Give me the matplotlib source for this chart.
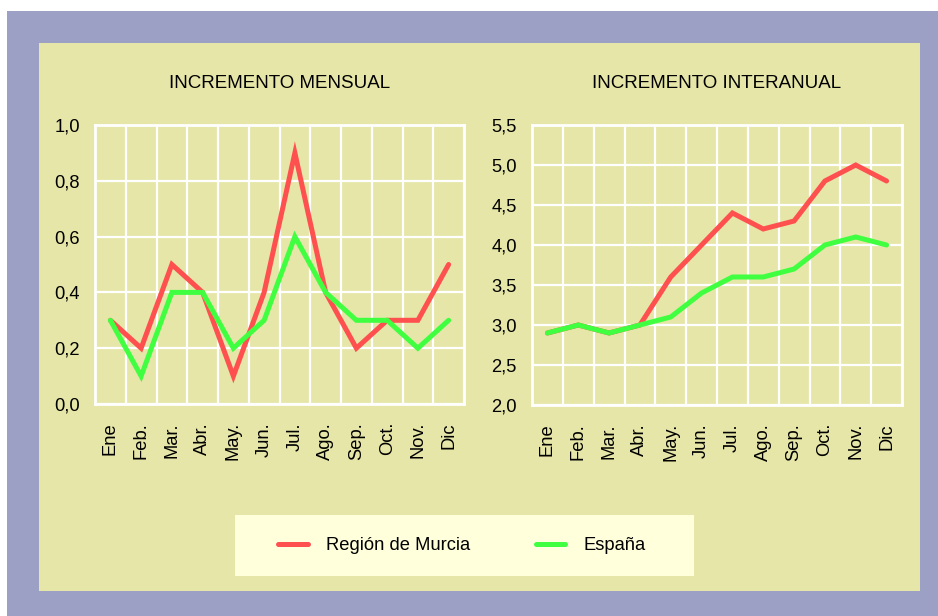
import numpy as np
import matplotlib
matplotlib.use("Agg")
import matplotlib.pyplot as plt
from matplotlib.patches import Rectangle
from matplotlib.ticker import FuncFormatter

plt.rcParams['font.family'] = ['Liberation Sans', 'DejaVu Sans']

# Data
meses = ["Ene", "Feb.", "Mar.", "Abr.", "May.", "Jun.", "Jul.", "Ago.", "Sep.", "Oct.", "Nov.", "Dic"]
murcia_mensual = [0.3, 0.2, 0.5, 0.4, 0.1, 0.4, 0.9, 0.4, 0.2, 0.3, 0.3, 0.5]
espana_mensual = [0.3, 0.1, 0.4, 0.4, 0.2, 0.3, 0.6, 0.4, 0.3, 0.3, 0.2, 0.3]
murcia_interanual = [2.9, 3.0, 2.9, 3.0, 3.6, 4.0, 4.4, 4.2, 4.3, 4.8, 5.0, 4.8]
espana_interanual = [2.9, 3.0, 2.9, 3.0, 3.1, 3.4, 3.6, 3.6, 3.7, 4.0, 4.1, 4.0]

ROJO = "#FF5050"
VERDE = "#40FF40"
KHAKI = "#E6E6A8"
MORADO = "#9CA0C4"

W, H = 938, 616
fig = plt.figure(figsize=(W / 100, H / 100), dpi=100)
fig.patch.set_facecolor("white")

def px(x0, y0, x1, y1):
    # pixel box (top-left origin) -> figure fraction rect
    return [x0 / W, 1 - y1 / H, (x1 - x0) / W, (y1 - y0) / H]

# Backgrounds
for box, col in [((7, 11, 938, 616), MORADO), ((39, 43, 920, 591), KHAKI),
                 ((235, 515, 694, 576), "#FFFFDC")]:
    b = px(*box)
    fig.patches.append(Rectangle((b[0], b[1]), b[2], b[3], transform=fig.transFigure,
                                 facecolor=col, edgecolor="none", zorder=-10))

coma = FuncFormatter(lambda v, p: f"{v:.1f}".replace(".", ","))

def panel(rect, murcia, espana, ylim, yticks, titulo, title_y):
    ax = fig.add_axes(rect)
    ax.set_facecolor(KHAKI)
    x = np.arange(len(meses))
    ax.plot(x, murcia, color=ROJO, lw=3.6, solid_capstyle="round", solid_joinstyle="miter", zorder=3)
    ax.plot(x, espana, color=VERDE, lw=3.6, solid_capstyle="round", solid_joinstyle="miter", zorder=3)
    ax.set_xlim(-0.5, len(meses) - 0.5)
    ax.set_ylim(*ylim)
    ax.set_yticks(yticks)
    ax.yaxis.set_major_formatter(coma)
    ax.set_xticks(x)
    ax.set_xticklabels(meses, rotation=90)
    ax.set_xticks(np.arange(-0.5, len(meses)), minor=True)
    ax.grid(True, axis="y", which="major", color="white", lw=1.6)
    ax.grid(True, axis="x", which="minor", color="white", lw=1.6)
    ax.tick_params(which="both", length=0, labelsize=13.2, colors="black")
    ax.tick_params(axis="y", pad=11)
    ax.tick_params(axis="x", pad=13)
    for s in ax.spines.values():
        s.set_color("white")
        s.set_linewidth(2)
    ax.set_axisbelow(True)
    ax.text(0.5, title_y, titulo, transform=ax.transAxes, ha="center", va="center", fontsize=13.5)
    return ax

ax1 = panel(px(95, 125, 464, 404), murcia_mensual, espana_mensual, (0, 1.0),
            np.arange(0, 1.01, 0.2), "INCREMENTO MENSUAL", 1 + 42 / 279)
ax2 = panel(px(532, 125, 902, 405), murcia_interanual, espana_interanual, (2.0, 5.5),
            np.arange(2.0, 5.51, 0.5), "INCREMENTO INTERANUAL", 1 + 42 / 280)

# Legend
h1, = ax1.plot([], [], color=ROJO, lw=3.6, solid_capstyle="round")
h2, = ax1.plot([], [], color=VERDE, lw=3.6, solid_capstyle="round")
fig.legend([h1, h2], ["Región de Murcia", "España"], loc="center",
           bbox_to_anchor=(462 / W, 1 - 545.5 / H), ncol=2, frameon=False,
           fontsize=13.2, handlelength=1.6, handletextpad=1.0, columnspacing=3.6)

plt.savefig("out.png", dpi=100)
